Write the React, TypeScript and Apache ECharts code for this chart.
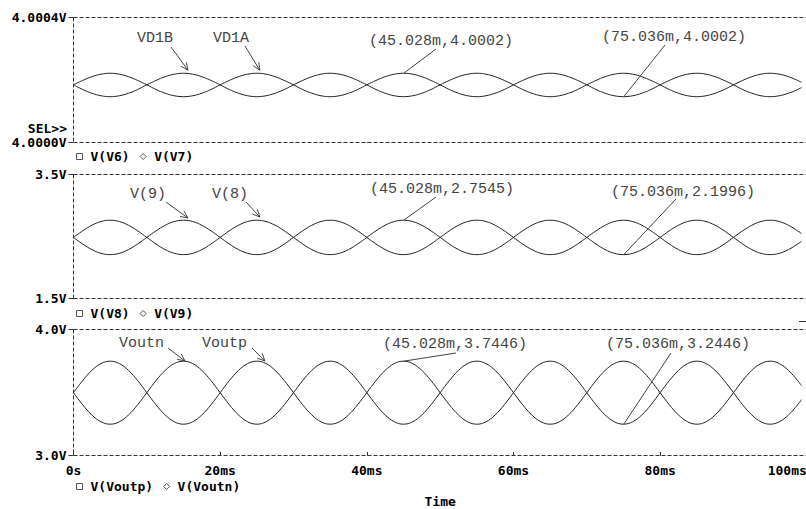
import React, { useEffect, useRef } from "react";
import * as echarts from "echarts";

// time in ms
const timeMs = [
  0, 1.25, 2.5, 3.75, 5, 6.25, 7.5, 8.75, 10, 11.25, 12.5, 13.75, 15, 16.25, 17.5, 18.75,
  20, 21.25, 22.5, 23.75, 25, 26.25, 27.5, 28.75, 30, 31.25, 32.5, 33.75, 35, 36.25, 37.5, 38.75,
  40, 41.25, 42.5, 43.75, 45, 46.25, 47.5, 48.75, 50, 51.25, 52.5, 53.75, 55, 56.25, 57.5, 58.75,
  60, 61.25, 62.5, 63.75, 65, 66.25, 67.5, 68.75, 70, 71.25, 72.5, 73.75, 75, 76.25, 77.5, 78.75,
  80, 81.25, 82.5, 83.75, 85, 86.25, 87.5, 88.75, 90, 91.25, 92.5, 93.75, 95, 96.25, 97.5, 98.75,
  100,
];

// Panel 1 (V)
const vV6 = [
  4.000183, 4.000197, 4.000209, 4.000217, 4.00022, 4.000217, 4.000209, 4.000197, 4.000183, 4.000168, 4.000156, 4.000148, 4.000145, 4.000148, 4.000156, 4.000168,
  4.000183, 4.000197, 4.000209, 4.000217, 4.00022, 4.000217, 4.000209, 4.000197, 4.000183, 4.000168, 4.000156, 4.000148, 4.000145, 4.000148, 4.000156, 4.000168,
  4.000183, 4.000197, 4.000209, 4.000217, 4.00022, 4.000217, 4.000209, 4.000197, 4.000183, 4.000168, 4.000156, 4.000148, 4.000145, 4.000148, 4.000156, 4.000168,
  4.000183, 4.000197, 4.000209, 4.000217, 4.00022, 4.000217, 4.000209, 4.000197, 4.000183, 4.000168, 4.000156, 4.000148, 4.000145, 4.000148, 4.000156, 4.000168,
  4.000183, 4.000197, 4.000209, 4.000217, 4.00022, 4.000217, 4.000209, 4.000197, 4.000183, 4.000168, 4.000156, 4.000148, 4.000145, 4.000148, 4.000156, 4.000168,
  4.000183,
];
const vV7 = [
  4.000183, 4.000168, 4.000156, 4.000148, 4.000145, 4.000148, 4.000156, 4.000168, 4.000183, 4.000197, 4.000209, 4.000217, 4.00022, 4.000217, 4.000209, 4.000197,
  4.000183, 4.000168, 4.000156, 4.000148, 4.000145, 4.000148, 4.000156, 4.000168, 4.000183, 4.000197, 4.000209, 4.000217, 4.00022, 4.000217, 4.000209, 4.000197,
  4.000183, 4.000168, 4.000156, 4.000148, 4.000145, 4.000148, 4.000156, 4.000168, 4.000183, 4.000197, 4.000209, 4.000217, 4.00022, 4.000217, 4.000209, 4.000197,
  4.000183, 4.000168, 4.000156, 4.000148, 4.000145, 4.000148, 4.000156, 4.000168, 4.000183, 4.000197, 4.000209, 4.000217, 4.00022, 4.000217, 4.000209, 4.000197,
  4.000183, 4.000168, 4.000156, 4.000148, 4.000145, 4.000148, 4.000156, 4.000168, 4.000183, 4.000197, 4.000209, 4.000217, 4.00022, 4.000217, 4.000209, 4.000197,
  4.000183,
];

// Panel 2 (V)
const vV8 = [
  2.4771, 2.5832, 2.6732, 2.7334, 2.7545, 2.7334, 2.6732, 2.5832, 2.4771, 2.3709, 2.2809, 2.2207, 2.1996, 2.2207, 2.2809, 2.3709,
  2.4771, 2.5832, 2.6732, 2.7334, 2.7545, 2.7334, 2.6732, 2.5832, 2.4771, 2.3709, 2.2809, 2.2207, 2.1996, 2.2207, 2.2809, 2.3709,
  2.4771, 2.5832, 2.6732, 2.7334, 2.7545, 2.7334, 2.6732, 2.5832, 2.4771, 2.3709, 2.2809, 2.2207, 2.1996, 2.2207, 2.2809, 2.3709,
  2.4771, 2.5832, 2.6732, 2.7334, 2.7545, 2.7334, 2.6732, 2.5832, 2.4771, 2.3709, 2.2809, 2.2207, 2.1996, 2.2207, 2.2809, 2.3709,
  2.4771, 2.5832, 2.6732, 2.7334, 2.7545, 2.7334, 2.6732, 2.5832, 2.4771, 2.3709, 2.2809, 2.2207, 2.1996, 2.2207, 2.2809, 2.3709,
  2.4771,
];
const vV9 = [
  2.4771, 2.3709, 2.2809, 2.2207, 2.1996, 2.2207, 2.2809, 2.3709, 2.4771, 2.5832, 2.6732, 2.7334, 2.7545, 2.7334, 2.6732, 2.5832,
  2.4771, 2.3709, 2.2809, 2.2207, 2.1996, 2.2207, 2.2809, 2.3709, 2.4771, 2.5832, 2.6732, 2.7334, 2.7545, 2.7334, 2.6732, 2.5832,
  2.4771, 2.3709, 2.2809, 2.2207, 2.1996, 2.2207, 2.2809, 2.3709, 2.4771, 2.5832, 2.6732, 2.7334, 2.7545, 2.7334, 2.6732, 2.5832,
  2.4771, 2.3709, 2.2809, 2.2207, 2.1996, 2.2207, 2.2809, 2.3709, 2.4771, 2.5832, 2.6732, 2.7334, 2.7545, 2.7334, 2.6732, 2.5832,
  2.4771, 2.3709, 2.2809, 2.2207, 2.1996, 2.2207, 2.2809, 2.3709, 2.4771, 2.5832, 2.6732, 2.7334, 2.7545, 2.7334, 2.6732, 2.5832,
  2.4771,
];

// Panel 3 (V)
const vVoutp = [
  3.4946, 3.5903, 3.6714, 3.7256, 3.7446, 3.7256, 3.6714, 3.5903, 3.4946, 3.3989, 3.3178, 3.2636, 3.2446, 3.2636, 3.3178, 3.3989,
  3.4946, 3.5903, 3.6714, 3.7256, 3.7446, 3.7256, 3.6714, 3.5903, 3.4946, 3.3989, 3.3178, 3.2636, 3.2446, 3.2636, 3.3178, 3.3989,
  3.4946, 3.5903, 3.6714, 3.7256, 3.7446, 3.7256, 3.6714, 3.5903, 3.4946, 3.3989, 3.3178, 3.2636, 3.2446, 3.2636, 3.3178, 3.3989,
  3.4946, 3.5903, 3.6714, 3.7256, 3.7446, 3.7256, 3.6714, 3.5903, 3.4946, 3.3989, 3.3178, 3.2636, 3.2446, 3.2636, 3.3178, 3.3989,
  3.4946, 3.5903, 3.6714, 3.7256, 3.7446, 3.7256, 3.6714, 3.5903, 3.4946, 3.3989, 3.3178, 3.2636, 3.2446, 3.2636, 3.3178, 3.3989,
  3.4946,
];
const vVoutn = [
  3.4946, 3.3989, 3.3178, 3.2636, 3.2446, 3.2636, 3.3178, 3.3989, 3.4946, 3.5903, 3.6714, 3.7256, 3.7446, 3.7256, 3.6714, 3.5903,
  3.4946, 3.3989, 3.3178, 3.2636, 3.2446, 3.2636, 3.3178, 3.3989, 3.4946, 3.5903, 3.6714, 3.7256, 3.7446, 3.7256, 3.6714, 3.5903,
  3.4946, 3.3989, 3.3178, 3.2636, 3.2446, 3.2636, 3.3178, 3.3989, 3.4946, 3.5903, 3.6714, 3.7256, 3.7446, 3.7256, 3.6714, 3.5903,
  3.4946, 3.3989, 3.3178, 3.2636, 3.2446, 3.2636, 3.3178, 3.3989, 3.4946, 3.5903, 3.6714, 3.7256, 3.7446, 3.7256, 3.6714, 3.5903,
  3.4946, 3.3989, 3.3178, 3.2636, 3.2446, 3.2636, 3.3178, 3.3989, 3.4946, 3.5903, 3.6714, 3.7256, 3.7446, 3.7256, 3.6714, 3.5903,
  3.4946,
];

const panelNames = [["V(V6)", "V(V7)"], ["V(V8)", "V(V9)"], ["V(Voutp)", "V(Voutn)"]];
const panelSeries = [[vV6, vV7], [vV8, vV9], [vVoutp, vVoutn]];
const yMins = [4.0, 1.5, 3.0];
const yMaxs = [4.0004, 3.5, 4.0];
const yIntervals = [0.0001, 0.5, 0.2];
const yDecimals = [4, 1, 1];

// annotations: series index, text, text left, text center y, tail x, tail y, tip [ms, V], arrow
const annotations: [number, string, number, number, number, number, [number, number], boolean][] = [
  [0, "VD1B", 137, 38, 171, 47, [15.6, 4.00023], true],
  [0, "VD1A", 213, 38, 245, 46, [25.4, 4.00023], true],
  [0, "(45.028m,4.0002)", 369, 41, 436, 49, [45.028, 4.00022], false],
  [0, "(75.036m,4.0002)", 602, 37, 665, 45, [75.036, 4.000145], false],
  [2, "V(9)", 130, 194, 166, 202, [15.6, 2.79], true],
  [2, "V(8)", 212, 194, 246, 202, [25.4, 2.806], true],
  [2, "(45.028m,2.7545)", 370, 189, 436, 197, [45.028, 2.7545], false],
  [2, "(75.036m,2.1996)", 611, 192, 676, 199, [75.036, 2.1996], false],
  [4, "Voutn", 119, 343, 168, 348, [15.2, 3.746], true],
  [4, "Voutp", 202, 343, 252, 348, [26.1, 3.746], true],
  [4, "(45.028m,3.7446)", 383, 344, 456, 353, [45.028, 3.7446], false],
  [4, "(75.036m,3.2446)", 606, 344, 671, 353, [75.036, 3.2446], false],
];

const MONO_BOLD = '"DejaVu Sans Mono", monospace';
const AXIS_COLOR = "#333";

export default function App() {
  const ref = useRef<HTMLDivElement>(null);
  useEffect(() => {
    if (!ref.current) return;
    const chart = echarts.init(ref.current, null, { renderer: "svg" });

    const grids = [
      { left: 73.5, width: 733.3, outerBoundsMode: "none", show: false, borderWidth: 0, top: 17, height: 125 },
      { left: 73.5, width: 733.3, outerBoundsMode: "none", show: false, borderWidth: 0, top: 174, height: 124 },
      { left: 73.5, width: 733.3, outerBoundsMode: "none", show: false, borderWidth: 0, top: 329, height: 126 },
    ];

    const xAxes: any[] = [];
    const yAxes: any[] = [];
    const series: any[] = [];
    const legends: any[] = [];
    const legendTops = [150, 307, 480];

    for (let p = 0; p < 3; p++) {
      const isLast = p === 2;
      xAxes.push({
        type: "value",
        gridIndex: p,
        position: "bottom",
        min: 0,
        max: 100,
        interval: 20,
        axisLine: { show: false, onZero: false },
        axisTick: { show: isLast, inside: true, length: 3, lineStyle: { color: AXIS_COLOR, cap: "butt" } },
        axisLabel: isLast
          ? {
              show: true,
              margin: 9,
              color: "#000",
              fontFamily: MONO_BOLD,
              fontWeight: "bold",
              fontSize: 13,
              alignMaxLabel: "right",
              formatter: (v: number) => (v === 0 ? "0s" : v + "ms"),
            }
          : { show: false },
        splitLine: { show: false },
        name: isLast ? "Time" : "",
        nameLocation: "middle",
        nameGap: 40,
        nameTextStyle: { fontFamily: MONO_BOLD, fontWeight: "bold", fontSize: 13, color: "#000" },
      });
      const mn = yMins[p];
      const mx = yMaxs[p];
      const dec = yDecimals[p];
      yAxes.push({
        type: "value",
        gridIndex: p,
        min: mn,
        max: mx,
        interval: yIntervals[p],
        axisLine: { show: false, onZero: false },
        axisTick: { show: true, length: 5, customValues: [mn, mx], lineStyle: { color: AXIS_COLOR, cap: "butt" } },
        axisLabel: {
          show: true,
          margin: 7,
          color: "#000",
          fontFamily: MONO_BOLD,
          fontWeight: "bold",
          fontSize: 13,
          customValues: [mn, mx],
          formatter: (v: number) => {
            const tol = yIntervals[p] / 100;
            if (Math.abs(v - mn) < tol) return mn.toFixed(dec) + "V";
            if (Math.abs(v - mx) < tol) return mx.toFixed(dec) + "V";
            return "";
          },
        },
        splitLine: { show: true, lineStyle: { color: "#444", width: 1, type: [1, 145.66], cap: "butt" } },
      });
      for (let k = 0; k < 2; k++) {
        const vals = panelSeries[p][k];
        series.push({
          type: "line",
          name: panelNames[p][k],
          xAxisIndex: p,
          yAxisIndex: p,
          data: timeMs.map((t, i) => [t, vals[i]]),
          showSymbol: false,
          symbol: "none",
          smooth: 0.4,
          lineStyle: { color: "#222", width: 1 },
          itemStyle: { color: "#222" },
          silent: true,
        });
      }
      legends.push({
        left: 76,
        top: legendTops[p],
        orient: "horizontal",
        padding: 0,
        itemWidth: 6,
        itemHeight: 6,
        itemGap: 10,
        selectedMode: false,
        data: [
          { name: panelNames[p][0], icon: "rect" },
          { name: panelNames[p][1], icon: "diamond" },
        ],
        itemStyle: { color: "transparent", borderColor: "#555", borderWidth: 1 },
        textStyle: {
          fontFamily: MONO_BOLD,
          fontWeight: "bold",
          fontSize: 13,
          color: "#000",
          padding: [0, 0, 0, 3],
        },
      });
    }

    chart.setOption({
      animation: false,
      backgroundColor: "#fff",
      grid: grids,
      xAxis: xAxes,
      yAxis: yAxes,
      legend: legends,
      series,
    });

    const graphics: any[] = [
      {
        type: "text",
        x: 67,
        y: 128,
        silent: true,
        z: 60,
        style: {
          text: "SEL>>",
          font: 'bold 13px "DejaVu Sans Mono"',
          fill: "#000",
          align: "right",
          verticalAlign: "middle",
          textAlign: "right",
          textVerticalAlign: "middle",
        },
      },
      {
        type: "line",
        silent: true,
        z: 60,
        shape: { x1: 799, y1: 321.5, x2: 806, y2: 321.5 },
        style: { stroke: "#333", lineWidth: 1 },
      },
    ];

    // dashed panel frames (left, top, bottom), from the axes' extents
    for (let p = 0; p < 3; p++) {
      const tl = chart.convertToPixel({ seriesIndex: p * 2 }, [0, yMaxs[p]]) as number[];
      const br = chart.convertToPixel({ seriesIndex: p * 2 }, [100, yMins[p]]) as number[];
      const x0 = Math.floor(tl[0]) + 0.5;
      const yt = Math.floor(tl[1]) + 0.5;
      const yb = Math.floor(br[1]) + 0.5;
      graphics.push({
        type: "rect",
        silent: true,
        z: 50,
        shape: { x: 801.5, y: yt - 1, width: 6, height: yb - yt + 2 },
        style: { fill: "#fff" },
      });
      const dashStyle = { stroke: AXIS_COLOR, lineWidth: 1, lineDash: [4, 2], lineCap: "butt" };
      graphics.push({ type: "line", silent: true, z: 60, shape: { x1: x0, y1: yt, x2: 806, y2: yt }, style: dashStyle });
      graphics.push({ type: "line", silent: true, z: 60, shape: { x1: x0, y1: yb, x2: 806, y2: yb }, style: dashStyle });
      graphics.push({ type: "line", silent: true, z: 60, shape: { x1: x0, y1: yt, x2: x0, y2: yb }, style: dashStyle });
    }

    for (const a of annotations) {
      const [sIdx, text, tx, ty, ax, ay, tipData, arrow] = a;
      const tip = chart.convertToPixel({ seriesIndex: sIdx }, tipData) as number[];
      graphics.push({
        type: "text",
        x: tx,
        y: ty,
        silent: true,
        z: 60,
        style: {
          text,
          font: '15px "Liberation Mono"',
          fill: "#444",
          align: "left",
          verticalAlign: "middle",
          textAlign: "left",
          textVerticalAlign: "middle",
        },
      });
      graphics.push({
        type: "line",
        silent: true,
        z: 60,
        shape: { x1: ax, y1: ay, x2: tip[0], y2: tip[1] },
        style: { stroke: "#444", lineWidth: 1 },
      });
      if (arrow) {
        const dx = tip[0] - ax;
        const dy = tip[1] - ay;
        const len = Math.sqrt(dx * dx + dy * dy);
        const ux = -dx / len;
        const uy = -dy / len;
        const L = 8;
        const ang = (25 * Math.PI) / 180;
        const c = Math.cos(ang);
        const s = Math.sin(ang);
        const p1 = [tip[0] + L * (ux * c - uy * s), tip[1] + L * (ux * s + uy * c)];
        const p2 = [tip[0] + L * (ux * c + uy * s), tip[1] + L * (-ux * s + uy * c)];
        graphics.push({
          type: "polyline",
          silent: true,
          z: 60,
          shape: { points: [p1, tip, p2] },
          style: { stroke: "#444", lineWidth: 1, fill: null },
        });
      }
    }

    chart.setOption({ graphic: graphics });

    return () => chart.dispose();
  }, []);

  return (
    <div
      ref={ref}
      style={{ position: "absolute", left: 0, top: 0, width: 806, height: 509, background: "#fff" }}
    />
  );
}
